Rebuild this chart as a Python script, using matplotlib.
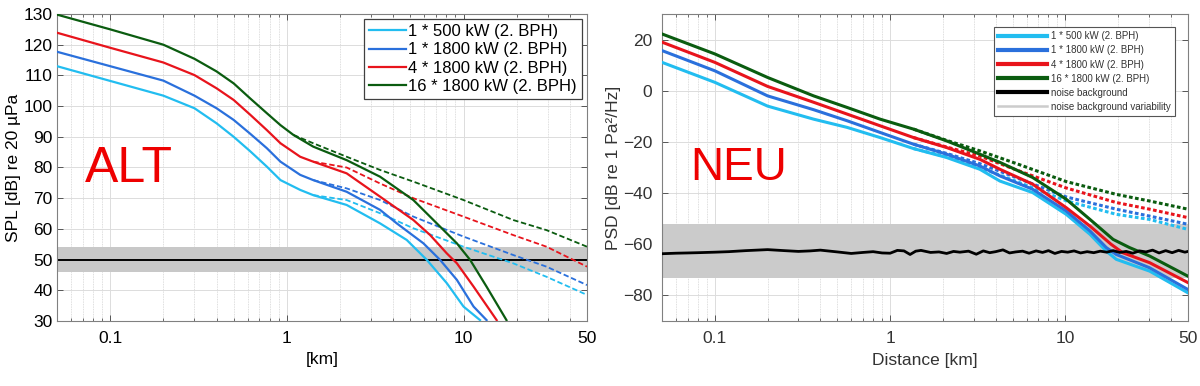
import matplotlib
matplotlib.use("Agg")
import matplotlib.pyplot as plt
from matplotlib.ticker import FixedLocator, NullFormatter, FixedFormatter
from matplotlib.lines import Line2D

plt.rcParams['font.family'] = ['Liberation Sans', 'DejaVu Sans']

# ---------------- data: ALT (left) ----------------
labels = ["1 * 500 kW (2. BPH)", "1 * 1800 kW (2. BPH)", "4 * 1800 kW (2. BPH)", "16 * 1800 kW (2. BPH)"]
colors = ['#22bdf0', '#2a70dc', '#e8141c', '#0b5c10']

alt_km_500 = [0.05, 0.1, 0.2, 0.3, 0.4, 0.5, 0.62, 0.77, 0.92, 1.19, 1.41, 2.18, 3.37, 4.77, 6.2, 8.05, 10, 12.4]
alt_spl_500 = [113, 108.2, 103.4, 99.3, 94.4, 90, 85.3, 80.3, 75.9, 72.7, 71, 67.8, 61.8, 56.4, 49.9, 42.3, 34.7, 30.3]
alt_km_1800 = [0.05, 0.1, 0.2, 0.3, 0.4, 0.5, 0.62, 0.77, 0.92, 1.19, 1.41, 2.18, 3.37, 4.19, 5.93, 7.37, 9.17, 11.4, 13.5]
alt_spl_1800 = [117.7, 113, 108.3, 103.4, 99.3, 95.5, 91, 86.3, 81.9, 77.6, 75.9, 72.1, 66.2, 61.8, 55.3, 49.9, 43.4, 34.7, 30.3]
alt_km_4x = [0.05, 0.1, 0.2, 0.3, 0.4, 0.5, 0.62, 0.77, 0.92, 1.19, 1.41, 2.18, 3.37, 5.2, 6.47, 8.05, 9.17, 11.4, 15.4]
alt_spl_4x = [123.9, 119, 114.2, 110.1, 105.8, 102, 97.2, 92.2, 87.9, 83.5, 81.9, 78.1, 70.5, 62.9, 58, 52, 48.8, 41.2, 30.3]
alt_km_16x = [0.05, 0.1, 0.2, 0.3, 0.4, 0.5, 0.62, 0.77, 0.92, 1.09, 1.41, 2.18, 3.37, 5.2, 7.06, 9.17, 10.9, 13.5, 17.5]
alt_spl_16x = [129.8, 125, 120, 115.4, 111.3, 107.4, 102.5, 97.7, 93.8, 90.6, 86.8, 82.4, 77, 69.4, 61.8, 55.3, 49.9, 41.2, 30.3]

alt_km_dash = [1.41, 2.18, 3.37, 5.2, 10, 19.1, 29.5, 50]
alt_dash_500 = [71, 69.4, 65.1, 60.2, 54.2, 48.8, 44.4, 38.5]
alt_dash_1800 = [75.9, 73.2, 69.4, 64, 57.5, 51.5, 47.7, 41.7]
alt_dash_4x = [81.9, 80, 74.8, 70, 64, 58, 54.2, 47.7]
alt_km_dash16 = [1.09, 1.41, 2.18, 3.37, 5.2, 10, 19.1, 29.5, 50]
alt_dash_16x = [90.6, 87.9, 83.5, 79.2, 75.4, 69.4, 62.9, 59.6, 54.2]

alt_noise = 50
alt_noise_low, alt_noise_high = 46, 54

# ---------------- data: NEU (right) ----------------
neu_km_500 = [0.05, 0.1, 0.2, 0.366, 0.567, 0.877, 1.36, 2.1, 3.25, 4.23, 6.5, 10.1, 13.8, 17.1, 19.5, 30.2, 50]
neu_psd_500 = [11.1, 3.3, -6, -11.1, -14.3, -18.3, -22.6, -26.1, -30.7, -35.3, -39.8, -48.3, -56.1, -62.7, -65.9, -70.5, -79]
neu_km_1800 = [0.05, 0.1, 0.2, 0.366, 0.567, 0.877, 1.36, 2.1, 3.25, 4.23, 6.5, 10.1, 13.8, 17.1, 19.5, 30.2, 50]
neu_psd_1800 = [15.7, 7.8, -2, -7.4, -11.7, -16.3, -20.9, -24.8, -29.4, -33.3, -38.5, -47, -54.8, -61.3, -64, -69.2, -77.7]
neu_km_4x = [0.05, 0.1, 0.2, 0.366, 0.567, 0.877, 1.36, 2.1, 3.25, 4.23, 6.5, 10.1, 13.8, 18.2, 21.2, 30.2, 50]
neu_psd_4x = [19, 11.1, 1.7, -4.5, -9.1, -13.7, -18.3, -22.2, -26.8, -30.7, -36.5, -45.7, -52.9, -60, -63.3, -67.2, -75]
neu_km_16x = [0.05, 0.1, 0.2, 0.366, 0.567, 0.877, 1.36, 2.1, 3.25, 4.23, 6.5, 10.1, 13.8, 18.7, 23.2, 30.2, 50]
neu_psd_16x = [22.2, 14.4, 5.2, -2, -6.5, -11.1, -15, -19.6, -24.8, -28, -33.9, -42.4, -50.3, -58.1, -61.3, -64.6, -72.5]

neu_km_dash = [1.36, 2.1, 3.25, 5.27, 10.1, 19.5, 30.2, 50]
neu_dash_500 = [-22.6, -25.8, -30, -35.5, -43, -48.3, -50.3, -54.2]
neu_dash_1800 = [-20.9, -24.5, -28.5, -34, -41.5, -46.3, -49, -52.2]
neu_dash_4x = [-18.3, -22, -25.5, -31, -38, -43.7, -46.3, -49.6]
neu_dash_16x = [-15, -19.4, -23.5, -28.5, -35.5, -40.5, -43.1, -46.3]

noise_km = [0.05, 0.06, 0.07, 0.08, 0.1, 0.12, 0.15, 0.2, 0.25, 0.3, 0.35, 0.4, 0.5, 0.6, 0.7, 0.8,
            0.9, 1.0, 1.1, 1.2, 1.3, 1.4, 1.5, 1.7, 1.9, 2.1, 2.3, 2.5, 2.8, 3.1, 3.4, 3.7, 4.0, 4.4,
            4.8, 5.2, 5.7, 6.2, 6.8, 7.4, 8.0, 8.7, 9.5, 10.3, 11.2, 12.2, 13.3, 14.5, 15.8, 17.2,
            18.7, 20.4, 22.2, 24.2, 26.4, 28.8, 31.4, 34.2, 37.3, 40.6, 44.2, 48.0, 50.0]
noise_psd = [-63.7, -63.5, -63.4, -63.3, -63.1, -62.9, -62.5, -62.1, -62.5, -62.8, -62.6, -62.3, -63.0,
             -63.6, -63.2, -62.9, -63.4, -63.5, -62.4, -62.6, -64.0, -62.7, -62.4, -63.2, -63.0, -63.6,
             -62.8, -63.1, -62.7, -63.9, -62.6, -63.3, -62.9, -62.2, -63.4, -63.0, -62.7, -63.5, -62.6,
             -63.2, -62.5, -63.6, -62.8, -63.1, -62.6, -63.4, -62.9, -63.3, -62.7, -63.1, -62.5, -63.2,
             -62.8, -63.5, -62.6, -63.0, -62.3, -63.4, -62.5, -63.3, -62.4, -63.1, -62.8]
neu_band_low, neu_band_high = -73, -52

x_major = [0.1, 1, 10, 50]
x_major_labels = ['0.1', '1', '10', '50']
x_minor = [0.05, 0.06, 0.07, 0.08, 0.09, 0.2, 0.3, 0.4, 0.5, 0.6, 0.7, 0.8, 0.9,
           2, 3, 4, 5, 6, 7, 8, 9, 20, 30, 40]

# ---------------- figure ----------------
fig = plt.figure(figsize=(12, 3.86), dpi=100)
axL = fig.add_axes([57/1200, 1-321/386, 530/1200, 307/386])
axR = fig.add_axes([662/1200, 1-321/386, 526/1200, 307/386])


def style_axis(ax, textcolor):
    ax.set_xscale('log')
    ax.set_xlim(0.05, 50)
    ax.xaxis.set_major_locator(FixedLocator(x_major))
    ax.xaxis.set_major_formatter(FixedFormatter(x_major_labels))
    ax.xaxis.set_minor_locator(FixedLocator(x_minor))
    ax.xaxis.set_minor_formatter(NullFormatter())
    ax.grid(True, which='major', color='#dcdcdc', linewidth=0.7, linestyle='-')
    ax.grid(True, which='minor', axis='x', color='#d4d4d4', linewidth=0.6, linestyle=(0, (1, 1)))
    ax.set_axisbelow(True)
    ax.tick_params(which='both', direction='in', top=True, right=True, colors='#555555',
                   labelcolor=textcolor, labelsize=12.5)
    ax.tick_params(which='major', length=4, width=0.7)
    ax.tick_params(which='minor', length=2.5, width=0.6)
    ax.tick_params(axis='x', pad=7)
    for s in ax.spines.values():
        s.set_color('#808080')
        s.set_linewidth(0.8)


# ---- left ----
style_axis(axL, 'black')
axL.set_ylim(30, 130)
axL.set_yticks(range(30, 131, 10))
axL.tick_params(axis='y', pad=3)
axL.fill_between([0.05, 50], alt_noise_low, alt_noise_high, color='#c8c8c8', lw=0, zorder=1)
axL.plot([0.05, 50], [alt_noise, alt_noise], color='black', lw=1.4, zorder=2)

alt_solid = [(alt_km_500, alt_spl_500), (alt_km_1800, alt_spl_1800), (alt_km_4x, alt_spl_4x), (alt_km_16x, alt_spl_16x)]
alt_dash = [(alt_km_dash, alt_dash_500), (alt_km_dash, alt_dash_1800), (alt_km_dash, alt_dash_4x), (alt_km_dash16, alt_dash_16x)]
for (x, y), (xd, yd), c, lab in zip(alt_solid, alt_dash, colors, labels):
    axL.plot(xd, yd, color=c, lw=1.3, linestyle=(0, (3, 1.5)), zorder=3)
    axL.plot(x, y, color=c, lw=1.6, label=lab, zorder=4)

leg = axL.legend(loc='upper right', bbox_to_anchor=(0.9906, 0.9837), borderaxespad=0,
                 fontsize=12, handlelength=2.2, handletextpad=0.15, labelspacing=0.2,
                 borderpad=0.3, fancybox=False, framealpha=1, edgecolor='#404040')
leg.get_frame().set_linewidth(0.9)
axL.set_xlabel('[km]', fontsize=12.5)
axL.xaxis.set_label_coords(0.5, -0.1)
axL.set_ylabel('SPL [dB] re 20 µPa', fontsize=12.5)
axL.yaxis.set_label_coords(-0.068, 0.5)
axL.text((85-57)/530, 1-(182-14)/307, 'ALT', color='#ee0000', fontsize=36, transform=axL.transAxes,
         ha='left', va='baseline')

# ---- right ----
gray = '#333333'
style_axis(axR, gray)
axR.set_ylim(-90, 30)
axR.set_yticks(range(-80, 21, 20))
axR.tick_params(axis='y', pad=7)
axR.fill_between([0.05, 50], neu_band_low, neu_band_high, color='#cbcbcb', lw=0, zorder=1)
axR.plot(noise_km, noise_psd, color='black', lw=2.0, zorder=5)

neu_solid = [(neu_km_500, neu_psd_500), (neu_km_1800, neu_psd_1800), (neu_km_4x, neu_psd_4x), (neu_km_16x, neu_psd_16x)]
neu_dash = [neu_dash_500, neu_dash_1800, neu_dash_4x, neu_dash_16x]
for (x, y), yd, c in zip(neu_solid, neu_dash, colors):
    axR.plot(neu_km_dash, yd, color=c, lw=2.2, linestyle=(0, (1.2, 0.8)), zorder=3)
    axR.plot(x, y, color=c, lw=2.2, zorder=4)

handles = [Line2D([], [], color=c, lw=3) for c in colors]
handles += [Line2D([], [], color='black', lw=3), Line2D([], [], color='#cccccc', lw=1.8)]
leg2 = axR.legend(handles, labels + ['noise background', 'noise background variability'],
                  loc='upper right', bbox_to_anchor=(0.975, 0.9577), borderaxespad=0,
                  fontsize=7, handlelength=5, handletextpad=0.4, labelspacing=0.42,
                  borderpad=0.45, fancybox=False, framealpha=1, edgecolor='#555555')
leg2.get_frame().set_linewidth(0.8)
for t in leg2.get_texts():
    t.set_color(gray)
axR.set_xlabel('Distance [km]', fontsize=12.5, color=gray)
axR.xaxis.set_label_coords(0.5, -0.105)
axR.set_ylabel('PSD [dB re 1 Pa²/Hz]', fontsize=12.5, color=gray)
axR.yaxis.set_label_coords(-0.078, 0.5)
axR.text((690-662)/526, 1-(180-14)/307, 'NEU', color='#ee0000', fontsize=33, transform=axR.transAxes,
         ha='left', va='baseline')

fig.savefig('out.png', dpi=100)
